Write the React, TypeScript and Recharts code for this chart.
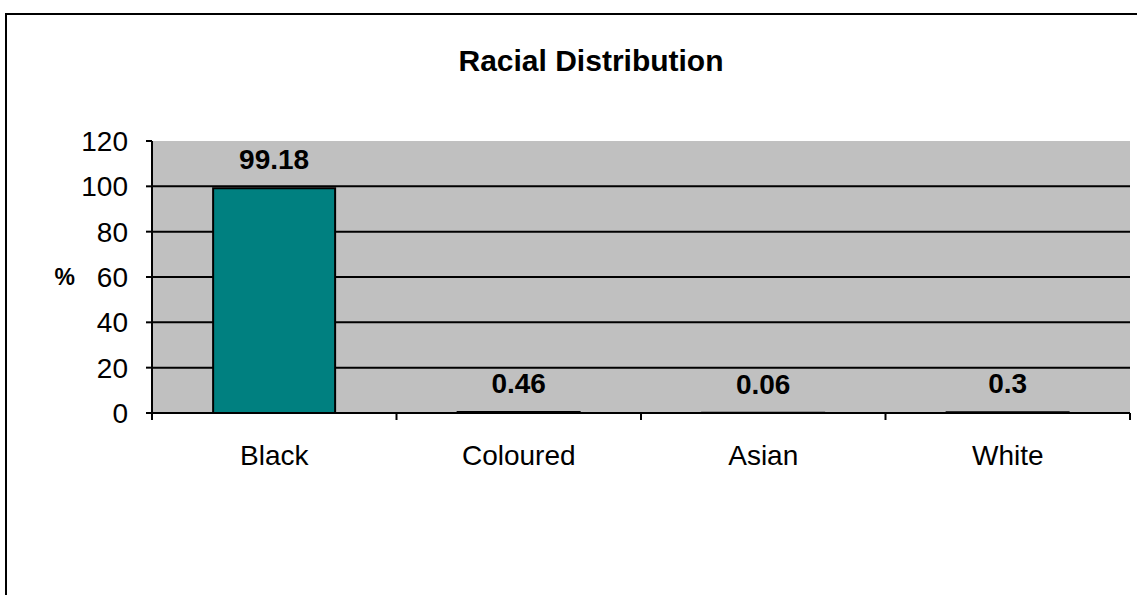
import React from 'react';
import {
  BarChart,
  Bar,
  XAxis,
  YAxis,
  CartesianGrid,
  LabelList,
} from 'recharts';

const groups = ['Black', 'Coloured', 'Asian', 'White'];
const shares = [99.18, 0.46, 0.06, 0.3];
const yTicks = [0, 20, 40, 60, 80, 100, 120];
const gridValues = [20, 40, 60, 80, 100];

const data = groups.map((name, i) => ({ name, value: shares[i] }));

const FONT = '"Liberation Sans", Arial, sans-serif';

// category label plus tick marks on the band boundaries rather than the centre
const CategoryTick = (props: any) => {
  const { x, y, payload, index, visibleTicksCount } = props;
  const half = payload.offset || 0;
  const last = index === visibleTicksCount - 1;
  return (
    <g>
      <line x1={x - half} x2={x - half} y1={y} y2={y + 7} stroke="#000" strokeWidth={2} />
      {last && (
        <line x1={x + half} x2={x + half} y1={y} y2={y + 7} stroke="#000" strokeWidth={2} />
      )}
      <text
        x={x}
        y={y + 32}
        dy="0.71em"
        textAnchor="middle"
        fill="#000"
        fontSize={28}
        fontFamily={FONT}
      >
        {payload.value}
      </text>
    </g>
  );
};

const App: React.FC = () => {
  return (
    <div
      style={{
        position: 'absolute',
        left: 0,
        top: 0,
        width: 1137,
        height: 595,
        background: '#fff',
        overflow: 'hidden',
        fontFamily: FONT,
      }}
    >
      {/* frame around the chart area */}
      <div
        style={{
          position: 'absolute',
          left: 5,
          top: 13,
          width: 1200,
          height: 700,
          borderTop: '2px solid #000',
          borderLeft: '2px solid #000',
        }}
      />
      <div
        style={{
          position: 'absolute',
          left: 591,
          top: 44,
          transform: 'translateX(-50%)',
          fontWeight: 'bold',
          fontSize: 30,
          whiteSpace: 'nowrap',
        }}
      >
        Racial Distribution
      </div>
      <div style={{ position: 'absolute', left: 0, top: 0 }}>
        <BarChart
          width={1137}
          height={595}
          data={data}
          margin={{ top: 141, right: 7, bottom: 142, left: 92 }}
          barCategoryGap="25%"
        >
          <CartesianGrid
            horizontal
            vertical={false}
            fill="#C0C0C0"
            stroke="#000"
            strokeWidth={2}
            horizontalValues={gridValues}
          />
          <XAxis
            dataKey="name"
            height={40}
            axisLine={{ stroke: '#000', strokeWidth: 2 }}
            tickLine={false}
            tickSize={0}
            tickMargin={0}
            tick={<CategoryTick />}
            interval={0}
          />
          <YAxis
            domain={[0, 120]}
            ticks={yTicks}
            width={60}
            tickSize={6}
            tickMargin={18}
            axisLine={{ stroke: '#000', strokeWidth: 2 }}
            tickLine={{ stroke: '#000', strokeWidth: 2 }}
            tick={{ fill: '#000', fontSize: 28, fontFamily: FONT }}
            label={{
              value: '%',
              position: 'left',
              angle: 0,
              offset: 17,
              fill: '#000',
              fontSize: 23,
              fontWeight: 'bold',
              fontFamily: FONT,
            }}
          />
          <Bar
            dataKey="value"
            fill="#008080"
            stroke="#000"
            strokeWidth={2}
            isAnimationActive={false}
          >
            <LabelList
              dataKey="value"
              position="top"
              offset={19}
              fill="#000"
              fontSize={28}
              fontWeight="bold"
              fontFamily={FONT}
            />
          </Bar>
        </BarChart>
      </div>
    </div>
  );
};

export default App;
